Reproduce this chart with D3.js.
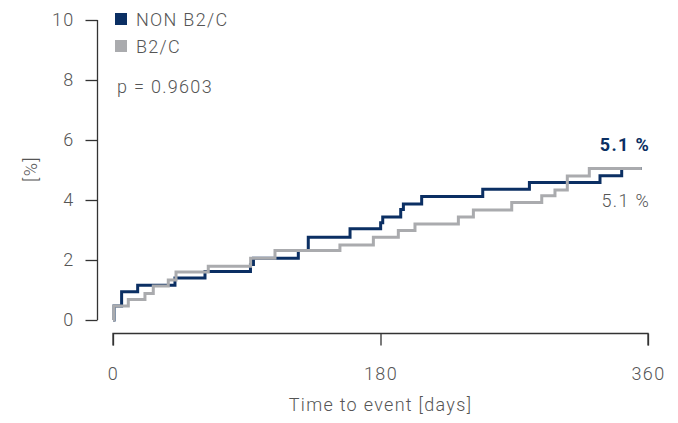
<!DOCTYPE html>
<html>
<head>
<meta charset="utf-8">
<script src="https://cdn.jsdelivr.net/npm/d3@7"></script>
<style>
  html, body { margin: 0; padding: 0; background: #fff; }
  svg { display: block; }
  text { font-family: Roboto, "Noto Sans", sans-serif; font-weight: 300; fill: #555; letter-spacing: 1.3px; }
</style>
</head>
<body>
<svg id="chart" width="678" height="423"></svg>
<script>
// Kaplan-Meier style cumulative incidence, step points [day, percent]
const nonB2cDays   = [0, 0.7, 5.8, 16.6, 41.7, 61.9, 92.5, 94.5, 124.7, 131.4, 159.5, 180.1, 181.5, 193.6, 195.4, 207.7, 248.8, 280.2, 327.7, 342.3, 355.8];
const nonB2cValues = [0, 0.47, 0.94, 1.16, 1.40, 1.62, 1.85, 2.06, 2.32, 2.76, 3.04, 3.24, 3.43, 3.68, 3.87, 4.12, 4.36, 4.58, 4.81, 5.05, 5.05];
const b2cDays   = [0, 0.5, 10.3, 21.5, 27.1, 37.2, 42.4, 64.1, 92.6, 109.0, 152.7, 175.2, 192.0, 203.2, 232.4, 242.5, 268.3, 288.5, 297.4, 305.7, 320.5, 355.8];
const b2cValues = [0, 0.47, 0.68, 0.88, 1.13, 1.33, 1.60, 1.79, 2.06, 2.32, 2.50, 2.76, 2.98, 3.20, 3.43, 3.67, 3.92, 4.14, 4.33, 4.80, 5.05, 5.05];

const seriesNames = ["NON B2/C", "B2/C"];
const seriesColors = ["#0b2f63", "#aaabae"];
const xTicks = [0, 180, 360];
const yTicks = [0, 2, 4, 6, 8, 10];
const pValueLabel = "p = 0.9603";
const endLabels = ["5.1 %", "5.1 %"];
const xTitle = "Time to event [days]";
const yTitle = "[%]";

const svg = d3.select("#chart");
const x = d3.scaleLinear().domain([0, 360]).range([113, 648]);
const y = d3.scaleLinear().domain([0, 10]).range([320, 20]);

// Y axis
const yAxis = svg.append("g").attr("transform", "translate(97.5,0)")
  .call(d3.axisLeft(y).tickValues(yTicks).tickSize(12).tickPadding(11).tickFormat(d3.format("d")));
yAxis.select(".domain").attr("stroke", "#333").attr("stroke-width", 1.3).attr("d", `M0,${y(10)}V${y(0)}`);
yAxis.selectAll(".tick line").attr("stroke", "#333").attr("stroke-width", 1.3);
yAxis.selectAll(".tick text").style("font-size", "18px").style("font-family", "Roboto, sans-serif").attr("fill", "#555").style("font-weight", 300);

// X axis
const xAxis = svg.append("g").attr("transform", "translate(0,333.5)")
  .call(d3.axisBottom(x).tickValues(xTicks).tickSize(12).tickPadding(22).tickFormat(d3.format("d")));
xAxis.select(".domain").attr("stroke", "#333").attr("stroke-width", 1.3).attr("d", `M${x(0)},12V0H${x(360)}V12`);
xAxis.selectAll(".tick line").attr("stroke", "#333").attr("stroke-width", 1.3);
xAxis.selectAll(".tick text").style("font-size", "18px").style("font-family", "Roboto, sans-serif").attr("fill", "#555").style("font-weight", 300);

// Titles
svg.append("text").attr("x", x(180)).attr("y", 411).attr("text-anchor", "middle")
  .style("font-size", "18px").text(xTitle);
svg.append("text").attr("transform", "translate(37,169) rotate(-90)").attr("text-anchor", "middle")
  .style("font-size", "18px").text(yTitle);

// Lines
const line = d3.line().x(d => x(d[0])).y(d => y(d[1])).curve(d3.curveStepAfter);
const data = [
  d3.zip(nonB2cDays, nonB2cValues),
  d3.zip(b2cDays, b2cValues)
];
data.forEach((pts, i) => {
  svg.append("path").datum(pts).attr("d", line)
    .attr("fill", "none").attr("stroke", seriesColors[i]).attr("stroke-width", 3);
});

// Legend
seriesNames.forEach((name, i) => {
  const ly = 13 + i * 27;
  svg.append("rect").attr("x", 115).attr("y", ly).attr("width", 12).attr("height", 12).attr("fill", seriesColors[i]);
  svg.append("text").attr("x", 136).attr("y", ly + 12.5).style("font-size", "18px").text(name);
});
svg.append("text").attr("x", 117).attr("y", 93).style("font-size", "18px").text(pValueLabel);

// End labels
svg.append("text").attr("x", 650).attr("y", 151).attr("text-anchor", "end")
  .style("font-size", "18px").style("font-weight", 700).style("fill", seriesColors[0]).text(endLabels[0]);
svg.append("text").attr("x", 650).attr("y", 207).attr("text-anchor", "end")
  .style("font-size", "18px").text(endLabels[1]);
</script>
</body>
</html>
